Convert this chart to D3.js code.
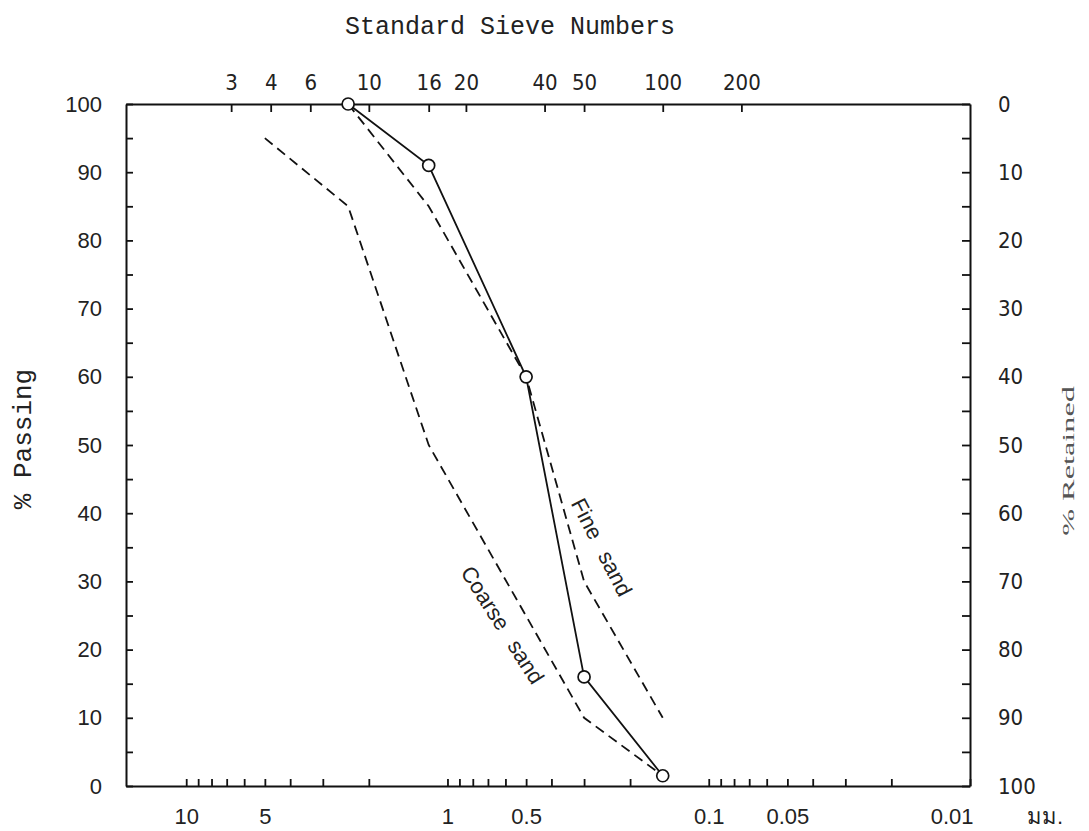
<!DOCTYPE html>
<html>
<head>
<meta charset="utf-8">
<script src="https://cdn.jsdelivr.net/npm/d3@7/dist/d3.min.js"></script>
<style>
  html, body { margin: 0; padding: 0; background: #fff; }
  svg { display: block; }
  .lbl { font-family: "Liberation Sans", Arial, sans-serif; font-size: 22px; fill: #222; }
  .lbl-narrow { font-family: "Liberation Sans Narrow", "DejaVu Sans Condensed", "Liberation Sans", sans-serif; font-size: 22px; fill: #222; }
  .mono { font-family: "Liberation Mono", "DejaVu Sans Mono", monospace; fill: #222; }
</style>
</head>
<body>
<svg id="chart" width="1089" height="831"></svg>
<script>
// Standard sieve numbers along the top and their openings in mm
const sieveNumbers = ["3", "4", "6", "10", "16", "20", "40", "50", "100", "200"];
const sieveOpeningsMM = [6.73, 4.75, 3.35, 2.0, 1.18, 0.85, 0.425, 0.3, 0.15, 0.075];

// Grain size ticks (mm) along the bottom, and which of them are labelled
const grainTicksMM = [10, 9, 8, 7, 6, 5, 4, 3, 2,
                      1, 0.9, 0.8, 0.7, 0.6, 0.5, 0.4, 0.3, 0.2,
                      0.1, 0.09, 0.08, 0.07, 0.06, 0.05, 0.04, 0.03, 0.02, 0.01];
const grainLabelsMM = [10, 5, 1, 0.5, 0.1, 0.05, 0.01];

// Percent ticks on both vertical axes
const percentTicks = [0, 5, 10, 15, 20, 25, 30, 35, 40, 45, 50, 55, 60, 65, 70, 75, 80, 85, 90, 95, 100];
const percentLabels = [0, 10, 20, 30, 40, 50, 60, 70, 80, 90, 100];

// Tested sand: grain size (mm) vs % passing
const sampleSizeMM = [2.4, 1.18, 0.5, 0.3, 0.15];
const samplePassing = [100, 91, 60, 16, 1.5];

// Fine sand grading limit
const fineSizeMM = [2.4, 1.18, 0.5, 0.3, 0.15];
const finePassing = [100, 85, 60, 30, 10];

// Coarse sand grading limit
const coarseSizeMM = [5, 2.4, 1.18, 0.3, 0.15];
const coarsePassing = [95, 85, 50, 10, 1.5];

// Curve annotations (position in data units)
const curveNames = ["Fine sand", "Coarse sand"];
const curveNameSizeMM = [0.257, 0.616];
const curveNamePassing = [35, 23.6];
const curveNameAngle = [62.7, 57.6];

const svg = d3.select("#chart");
const plotLeft = 126, plotRight = 970, plotTop = 104, plotBottom = 786;

const x = d3.scaleLog().domain([17, 0.01]).range([plotLeft, plotRight]);
const y = d3.scaleLinear().domain([0, 100]).range([plotBottom, plotTop]);
const yRetained = d3.scaleLinear().domain([0, 100]).range([plotTop, plotBottom]);

function styleAxis(g, cls) {
  g.attr("font-family", null).attr("font-size", null);
  g.select(".domain").attr("stroke", "#111").attr("stroke-width", 2);
  g.selectAll(".tick line").attr("stroke", "#111").attr("stroke-width", 1.8);
  g.selectAll(".tick text").attr("class", cls).attr("fill", null);
}

// Left axis: % passing
svg.append("g")
  .attr("transform", `translate(${plotLeft},0)`)
  .call(d3.axisLeft(y).tickValues(percentTicks).tickSize(-7).tickSizeOuter(0).tickPadding(24)
    .tickFormat(d => percentLabels.includes(d) ? d : ""))
  .call(g => styleAxis(g, "lbl"));

// Right axis: % retained
svg.append("g")
  .attr("transform", `translate(${plotRight},0)`)
  .call(d3.axisRight(yRetained).tickValues(percentTicks).tickSize(-8).tickSizeOuter(0).tickPadding(28)
    .tickFormat(d => percentLabels.includes(d) ? d : ""))
  .call(g => styleAxis(g, "lbl-narrow"));

// Top axis: sieve numbers
svg.append("g")
  .attr("transform", `translate(0,${plotTop})`)
  .call(d3.axisTop(x).tickValues(sieveOpeningsMM).tickSize(-8).tickSizeOuter(0).tickPadding(14)
    .tickFormat((d, i) => sieveNumbers[i]))
  .call(g => styleAxis(g, "lbl-narrow"));

// Bottom axis: grain size in mm
const bottomAxis = svg.append("g")
  .attr("transform", `translate(0,${plotBottom})`)
  .call(d3.axisBottom(x).tickValues(grainTicksMM).tickSize(-7).tickSizeOuter(0).tickPadding(22)
    .tickFormat(d => grainLabelsMM.includes(d) ? String(d) : ""))
  .call(g => styleAxis(g, "lbl"));
bottomAxis.selectAll(".tick text")
  .filter(d => d === 0.01)
  .attr("text-anchor", "end")
  .attr("x", 3);

svg.append("text")
  .attr("class", "lbl")
  .attr("x", 1027).attr("y", 824)
  .text("มม.");

// Titles
svg.append("text")
  .attr("class", "mono")
  .attr("font-size", 25)
  .attr("x", 510).attr("y", 34)
  .attr("text-anchor", "middle")
  .text("Standard Sieve Numbers");

svg.append("text")
  .attr("class", "mono")
  .attr("font-size", 26)
  .attr("transform", "translate(31,439) rotate(-90)")
  .attr("text-anchor", "middle")
  .text("% Passing");

svg.append("text")
  .attr("font-family", "'Liberation Serif', 'DejaVu Serif', serif")
  .attr("font-size", 17)
  .attr("fill", "#555")
  .attr("transform", "translate(1074,461) rotate(-90) scale(1.9,1)")
  .attr("text-anchor", "middle")
  .text("% Retained");

// Curves
const line = d3.line().x(d => x(d[0])).y(d => y(d[1]));
const zip = (a, b) => a.map((v, i) => [v, b[i]]);

svg.append("path")
  .datum(zip(coarseSizeMM, coarsePassing))
  .attr("d", line)
  .attr("fill", "none").attr("stroke", "#111").attr("stroke-width", 1.8)
  .attr("stroke-dasharray", "10,6");

svg.append("path")
  .datum(zip(fineSizeMM, finePassing))
  .attr("d", line)
  .attr("fill", "none").attr("stroke", "#111").attr("stroke-width", 1.8)
  .attr("stroke-dasharray", "10,6");

const sample = zip(sampleSizeMM, samplePassing);
svg.append("path")
  .datum(sample)
  .attr("d", line)
  .attr("fill", "none").attr("stroke", "#111").attr("stroke-width", 1.8);

svg.selectAll("circle.pt")
  .data(sample)
  .join("circle")
  .attr("class", "pt")
  .attr("cx", d => x(d[0]))
  .attr("cy", d => y(d[1]))
  .attr("r", 6)
  .attr("fill", "#fff")
  .attr("stroke", "#111")
  .attr("stroke-width", 1.7);

// Curve names
svg.selectAll("text.curve")
  .data(curveNames)
  .join("text")
  .attr("class", "curve lbl")
  .attr("font-size", 21)
  .attr("word-spacing", 10)
  .attr("text-anchor", "middle")
  .attr("dominant-baseline", "central")
  .attr("transform", (d, i) => `translate(${x(curveNameSizeMM[i])},${y(curveNamePassing[i])}) rotate(${curveNameAngle[i]})`)
  .text(d => d);
</script>
</body>
</html>
